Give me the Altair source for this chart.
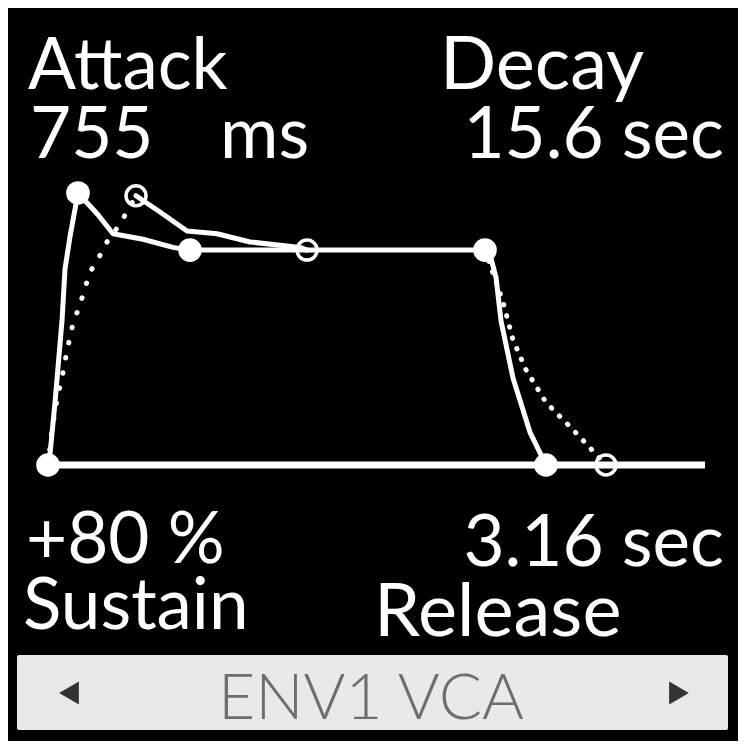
import altair as alt
import pandas as pd

# ---- envelope data (time units ~ screen steps, level in %) ----
main_t = [0, 2, 7, 14, 17, 22, 30, 50, 65, 95, 125, 142, 437, 443, 448, 453, 465, 482, 498]
main_L = [0, 4, 23, 53, 72, 84, 100, 92, 85, 83, 80, 79, 79, 76, 69, 53, 32, 12, 0]

ghost_att_t = [0, 4, 10, 14, 19, 25, 32, 37, 42, 49, 59, 67, 79, 88]
ghost_att_L = [0, 13, 26, 32, 42, 52, 59, 65, 71, 75, 82, 86, 93, 99]

ghost_dec_t = [88, 112, 139, 169, 202, 252, 259]
ghost_dec_L = [99, 93, 86, 85, 82, 80, 79]

ghost_rel_t = [437, 455, 465, 478, 498, 525, 558]
ghost_rel_L = [79, 60, 46, 35, 23, 13, 0]

base_t = [0, 657]
base_L = [0, 0]

node_t = [0, 30, 142, 437, 498]
node_L = [0, 100, 79, 79, 0]

ring_t = [88, 259, 558]
ring_L = [99, 79, 0]

labels_top = ["Attack", "Decay"]
values_top = ["755", "ms", "15.6 sec"]
values_bot = ["+80 %", "3.16 sec"]
labels_bot = ["Sustain", "Release"]
footer = "ENV1 VCA"


def frame(t, L):
    return pd.DataFrame({"t": t, "L": L, "i": list(range(len(t)))})


X = alt.X("t:Q", scale=alt.Scale(domain=[-40, 690], nice=False, zero=False), axis=None)
Y = alt.Y("L:Q", scale=alt.Scale(domain=[-101.47, 168.01], nice=False, zero=False), axis=None)

FONT = "Lato"


def label(txt, x, y, size=71, align="left", color="white", weight="normal"):
    return alt.Chart(pd.DataFrame({"a": [0]})).mark_text(
        text=txt, font=FONT, fontSize=size, align=align, baseline="alphabetic",
        color=color, fontWeight=weight
    ).encode(x=alt.value(x - 8), y=alt.value(y - 8))


one = pd.DataFrame({"a": [0]})

box = alt.Chart(one).mark_rect(color="#e9e9e9", cornerRadius=2).encode(
    x=alt.value(17 - 8), x2=alt.value(728 - 8), y=alt.value(655 - 8), y2=alt.value(730 - 8)
)
tri_l = alt.Chart(one).mark_point(shape="triangle-left", filled=True, color="#333333", size=520, opacity=1).encode(
    x=alt.value(69 - 8), y=alt.value(693 - 8)
)
tri_r = alt.Chart(one).mark_point(shape="triangle-right", filled=True, color="#333333", size=520, opacity=1).encode(
    x=alt.value(679 - 8), y=alt.value(693 - 8)
)

texts = [
    label(labels_top[0], 28, 89),
    label(labels_top[1], 440, 89, size=74),
    label(values_top[0], 30, 158),
    label(values_top[1], 220, 158),
    label(values_top[2], 724, 158, align="right"),
    label(values_bot[0], 26, 563),
    label(values_bot[1], 724, 566, align="right"),
    label(labels_bot[0], 23, 629),
    label(labels_bot[1], 374, 636, size=74),
    label(footer, 371, 719, size=64, align="center", color="#6e6e6e", weight=300),
]

baseline = alt.Chart(frame(base_t, base_L)).mark_line(color="white", strokeWidth=7).encode(X, Y, order="i")

ghost_att = alt.Chart(frame(ghost_att_t, ghost_att_L)).mark_line(
    color="white", strokeWidth=5, strokeDash=[0.5, 15], strokeCap="round"
).encode(X, Y, order="i")

ghost_dec = alt.Chart(frame(ghost_dec_t, ghost_dec_L)).mark_line(
    color="white", strokeWidth=5, strokeCap="round", strokeJoin="round"
).encode(X, Y, order="i")

ghost_rel = alt.Chart(frame(ghost_rel_t, ghost_rel_L)).mark_line(
    color="white", strokeWidth=5, strokeDash=[0.5, 11], strokeCap="round"
).encode(X, Y, order="i")

main = alt.Chart(frame(main_t, main_L)).mark_line(
    color="white", strokeWidth=5, strokeCap="round", strokeJoin="round"
).encode(X, Y, order="i")

rings = alt.Chart(frame(ring_t, ring_L)).mark_point(
    shape="circle", filled=False, color="white", strokeWidth=3.5, size=400, opacity=1
).encode(X, Y)

nodes = alt.Chart(frame(node_t, node_L)).mark_circle(color="white", size=560, opacity=1).encode(X, Y)

chart = alt.layer(
    box, tri_l, tri_r, *texts, baseline, ghost_att, ghost_dec, ghost_rel, main, rings, nodes
).properties(
    width=730, height=733,
    autosize=alt.AutoSizeParams(type="fit", contains="padding"),
    padding=0, background="black",
).configure_view(strokeWidth=0)

chart.save("out.html", embed_options={"renderer": "svg", "actions": False})
